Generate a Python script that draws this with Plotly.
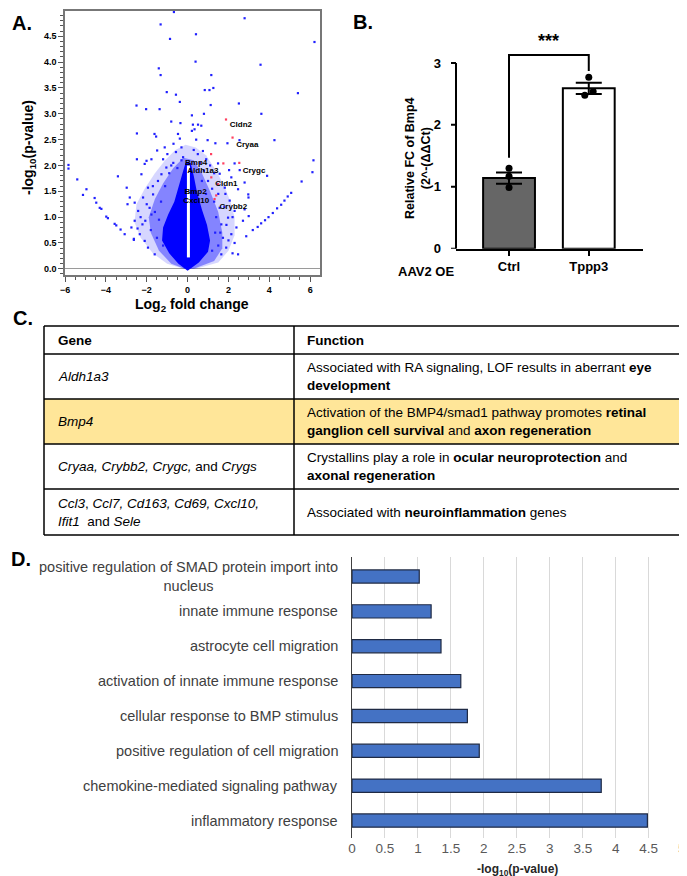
import plotly.graph_objects as go

W, H = 687, 876


def fx(px):
    return px / W


def fy(py):
    return 1 - py / H


# ---------------- A. volcano plot data ----------------
# scattered genes outside the dense core
pts_x = [-0.67, -1.32, 2.79, -0.86, 0.41, 6.21, 0.39, -1.41, -1.32, 3.57, 1.16, 5.40, -0.57, -1.02,
         0.84, 1.07, 1.26, -0.38, 2.51, -2.50, -2.03, -1.37, 1.13, 3.61, 0.21, 0.80, -0.80, -0.35,
         -2.48, -1.62, -1.54, -0.47, 0.26, 0.34, 0.51, 0.67, 2.54, 4.25, 0.98, 1.36, 1.95, -2.48,
         -2.01, -5.83, -5.83, 6.16, 6.11, 2.03, 3.89, 5.58, -5.40, -4.95, -5.12, -3.41, 2.97, 2.98,
         -2.98, -2.26, -2.10, -1.77, -1.49, -1.20, -1.12, -0.99, -0.69, -0.57, -0.38, -0.30, -0.22,
         0.21, 2.79, 2.30, 2.55, 2.14, 1.82, 2.47, 2.06, 2.30, 1.98, 2.39, 2.14, 2.30, 1.89, 1.65,
         2.47, 1.57, 1.65, 1.73, 2.79, 2.71, 2.99, 0.75, 0.50, 0.91, 0.42, 1.49, 1.57,
         -2.83, -2.59, -2.94, -2.42, -2.59, -2.75, -2.34, -2.10, -2.63, -1.94, -1.61, -2.07, -1.86,
         -1.69, -1.45, -1.28, -1.04, -1.94, -2.18, -1.77, -2.21,
         -4.55, -4.47, -4.30, -4.22, -3.98, -3.90, -3.57, -3.49, -3.28, -3.08, -2.63,
         2.87, 3.19, 3.43, 3.60, 3.79, 3.96, 4.17, 4.38, 4.58, 4.74, 4.90, 5.07,
         -1.1, -0.9, -1.3, -1.6, -1.8, -1.5, -2.0, -1.7, -0.7, -0.5, -1.4, -2.3, -2.45, -1.2, -0.8,
         -0.3, 0.3, 0.6, 0.8, 1.0, 1.2, 1.3, 1.5, 1.4, 1.6, 1.9, 1.8, 1.1, 1.3, 2.0, 1.5, 1.2, 0.9,
         0.7, 1.85, 2.2, 2.2, 1.35]
pts_y = [4.97, 4.73, 4.85, 4.45, 4.54, 4.39, 4.01, 3.88, 3.75, 3.95, 3.75, 3.40, 3.37, 3.42,
         3.46, 3.46, 3.50, 3.23, 3.20, 3.16, 3.09, 3.09, 3.17, 3.00, 2.97, 3.00, 2.85, 2.82,
         2.62, 2.61, 2.56, 2.61, 2.79, 2.70, 2.79, 2.77, 2.49, 2.49, 2.49, 2.43, 2.43, 2.12,
         2.09, 2.01, 1.94, 2.10, 1.87, 1.91, 1.80, 1.69, 1.73, 1.54, 1.43, 1.79, 1.44, 1.38,
         1.57, 1.83, 2.03, 2.12, 2.29, 2.12, 2.35, 2.22, 2.42, 2.26, 2.52, 2.35, 2.16,
         2.67, 1.67, 2.04, 1.91, 1.77, 1.57, 1.54, 1.32, 1.12, 0.99, 0.80, 0.67, 0.50, 0.41, 0.28,
         0.28, 1.18, 0.86, 0.60, 1.15, 0.93, 1.02, 2.28, 2.22, 2.12, 2.50, 2.04, 1.84,
         1.38, 1.28, 1.25, 1.12, 0.93, 0.80, 0.67, 0.54, 0.56, 0.41, 0.28, 0.93, 1.18,
         1.44, 1.70, 1.83, 1.96, 1.57, 1.38, 1.05, 0.86,
         1.37, 1.28, 1.18, 1.16, 1.01, 0.98, 0.87, 0.84, 0.76, 0.67, 0.58,
         0.63, 0.75, 0.81, 0.88, 0.94, 1.00, 1.08, 1.17, 1.24, 1.32, 1.40, 1.47,
         1.6, 1.85, 1.3, 1.1, 0.75, 0.6, 1.25, 1.6, 2.05, 1.95, 0.95, 1.0, 0.78, 0.45, 2.0,
         2.1, 2.3, 2.05, 1.9, 1.7, 1.55, 1.3, 1.45, 1.0, 0.7, 0.85, 1.2, 2.0, 1.85, 0.55, 0.45, 0.35,
         1.45, 1.7, 1.45, 1.0, 0.3, 0.7]

# significant genes (red)
sig_x = [1.88, 2.20, 1.15, 1.75, 2.53, 1.16, 1.48, 1.32, 1.40]
sig_y = [2.89, 2.54, 2.22, 2.04, 2.05, 1.77, 1.64, 1.35, 1.42]

# labelled genes
lab_genes = ["Cldn2", "Cryaa", "Bmp4", "Aldh1a3", "Crygc", "Cldn1", "Bmp2", "Cxcl10", "Crybb2"]
lab_x = [2.61, 2.92, 0.42, 0.75, 3.25, 1.90, 0.39, 0.42, 2.24]
lab_y = [2.78, 2.40, 2.05, 1.89, 1.90, 1.65, 1.49, 1.31, 1.20]

# outlines of the point cloud (sparse halo, denser zone, saturated core)
halo_x = [-0.2, -1.0, -1.7, -2.3, -2.6, -2.5, -2.1, -1.6, -1.1, -0.6, -0.1, 0.4, 0.9, 1.4, 1.8,
          2.1, 2.3, 2.3, 2.0, 1.5, 0.4]
halo_y = [0.0, 0.1, 0.3, 0.6, 0.9, 1.25, 1.55, 1.85, 2.1, 2.3, 2.4, 2.35, 2.2, 1.9, 1.6,
          1.3, 1.0, 0.65, 0.35, 0.12, 0.0]
mid_x = [-0.15, -0.8, -1.4, -1.8, -1.9, -1.6, -1.2, -0.7, -0.2, 0.3, 0.7, 1.1, 1.5, 1.7, 1.7, 1.3, 0.3]
mid_y = [0.0, 0.1, 0.35, 0.7, 1.0, 1.35, 1.65, 1.95, 2.15, 2.1, 1.85, 1.5, 1.1, 0.7, 0.4, 0.15, 0.0]
core_x = [0.0, -0.45, -0.9, -1.25, -1.2, -0.95, -0.65, -0.45, -0.25, -0.1, 0.15, 0.3, 0.45,
          0.7, 0.95, 1.1, 1.0, 0.55, 0.0]
core_y = [-0.04, 0.1, 0.3, 0.55, 0.8, 1.05, 1.3, 1.6, 1.85, 2.05, 2.05, 1.8, 1.5, 1.15, 0.85,
          0.55, 0.33, 0.12, -0.04]
gap_x = [0.04, 0.04]
gap_y = [0.22, 2.0]

# ---------------- B. qPCR data ----------------
groups = ["Ctrl", "Tppp3"]
means = [1.14, 2.59]
sems = [0.09, 0.09]
rep_group = [0, 0, 0, 1, 1, 1]
rep_jitter = [0.0, 0.0, 0.0, 0.0, -0.05, 0.055]
rep_vals = [1.30, 1.17, 0.99, 2.77, 2.48, 2.54]
bracket_x = [0, 0, 1, 1]
bracket_y = [1.47, 3.13, 3.13, 2.87]

# ---------------- C. table ----------------
genes = [
    "<i>Aldh1a3</i>",
    "<i>Bmp4</i>",
    "<i>Cryaa, Crybb2, Crygc,</i> and <i>Crygs</i>",
    "<i>Ccl3</i>, <i>Ccl7, Cd163, Cd69, Cxcl10,</i><br><i>Ifit1</i>  and <i>Sele</i>",
]
functions = [
    "Associated with RA signaling, LOF results in aberrant <b>eye</b><br><b>development</b>",
    "Activation of the BMP4/smad1 pathway promotes <b>retinal</b><br><b>ganglion cell survival</b> and <b>axon regeneration</b>",
    "Crystallins play a role in <b>ocular neuroprotection</b> and<br><b>axonal regeneration</b>",
    "Associated with <b>neuroinflammation</b> genes",
]

# ---------------- D. GO terms ----------------
go_terms = [
    "positive regulation of SMAD protein import into<br>nucleus",
    "innate immune response",
    "astrocyte cell migration",
    "activation of innate immune response",
    "cellular response to BMP stimulus",
    "positive regulation of cell migration",
    "chemokine-mediated signaling pathway",
    "inflammatory response",
]
go_vals = [1.02, 1.20, 1.35, 1.65, 1.75, 1.93, 3.78, 4.48]
go_ticks = [0, 0.5, 1, 1.5, 2, 2.5, 3, 3.5, 4, 4.5, 5]

fig = go.Figure()

# A
for px_, py_, alpha in [(halo_x, halo_y, 0.16), (mid_x, mid_y, 0.38), (core_x, core_y, 1.0)]:
    fig.add_trace(go.Scatter(x=px_, y=py_, mode="lines", fill="toself", line=dict(width=0),
                             fillcolor="rgba(0,0,255,%s)" % alpha, hoverinfo="skip",
                             xaxis="x", yaxis="y"))
fig.add_trace(go.Scatter(x=gap_x, y=gap_y, mode="lines", line=dict(color="white", width=3),
                         xaxis="x", yaxis="y"))
fig.add_trace(go.Scatter(x=pts_x, y=pts_y, mode="markers",
                         marker=dict(symbol="square", size=2.2, color="#2020ff"),
                         xaxis="x", yaxis="y"))
fig.add_trace(go.Scatter(x=sig_x, y=sig_y, mode="markers",
                         marker=dict(symbol="square", size=2.2, color="#ff4060"),
                         xaxis="x", yaxis="y"))
fig.add_trace(go.Scatter(x=lab_x, y=lab_y, mode="text", text=lab_genes,
                         textfont=dict(family="Liberation Sans", size=8, color="black", weight="bold"),
                         xaxis="x", yaxis="y"))

# B
fig.add_trace(go.Bar(x=[0, 1], y=means, width=0.65,
                     marker=dict(color=["#666666", "white"], line=dict(color="black", width=2)),
                     error_y=dict(type="data", array=sems, color="black", thickness=2, width=13),
                     xaxis="x2", yaxis="y2"))
fig.add_trace(go.Scatter(x=[g + j for g, j in zip(rep_group, rep_jitter)], y=rep_vals,
                         mode="markers", marker=dict(color="black", size=7),
                         xaxis="x2", yaxis="y2"))
fig.add_trace(go.Scatter(x=bracket_x, y=bracket_y, mode="lines",
                         line=dict(color="black", width=2), xaxis="x2", yaxis="y2"))

# D
fig.add_trace(go.Bar(x=go_vals, y=go_terms, orientation="h", width=0.38,
                     marker=dict(color="#4472C4", line=dict(color="#1f2a44", width=1.2)),
                     xaxis="x3", yaxis="y3"))

axis_font = dict(family="Liberation Sans", size=9, color="black", weight="bold")
fig.update_layout(
    width=W, height=H, margin=dict(l=0, r=0, t=0, b=0),
    template="none", showlegend=False,
    paper_bgcolor="white", plot_bgcolor="white",
    xaxis=dict(domain=[fx(57), fx(312)], range=[-6.0, 6.48], tickmode="array",
               tickvals=[-6, -4, -2, 0, 2, 4, 6], showline=True, mirror=True,
               linecolor="#777777", linewidth=1.5, ticks="outside", ticklen=5,
               tickcolor="#555555", tickfont=axis_font, showgrid=False, zeroline=False,
               minor=dict(ticks="outside", ticklen=3, dtick=0.5, tickcolor="#555555", showgrid=False)),
    yaxis=dict(domain=[fy(267), fy(3)], range=[-0.12, 4.99], tickmode="array",
               tickvals=[0, 0.5, 1, 1.5, 2, 2.5, 3, 3.5, 4, 4.5], tickformat=".1f",
               showline=True, mirror=True, linecolor="#777777", linewidth=1.5,
               ticks="outside", ticklen=5, tickcolor="#555555", tickfont=axis_font,
               showgrid=False, zeroline=True, zerolinecolor="#9a9a9a", zerolinewidth=1,
               minor=dict(ticks="outside", ticklen=3, dtick=0.1, tickcolor="#555555", showgrid=False)),
    xaxis2=dict(domain=[fx(448), fx(635)], range=[-0.665, 1.68], anchor="y2",
                tickmode="array", tickvals=[0, 1], ticktext=groups,
                showline=True, linecolor="black", linewidth=2, ticks="outside", ticklen=5,
                tickwidth=2, tickcolor="black", ticklabelstandoff=0,
                tickfont=dict(family="Liberation Sans", size=13, color="black", weight="bold"),
                showgrid=False, zeroline=False),
    yaxis2=dict(domain=[fy(240.7), fy(24)], range=[0, 3.5], anchor="x2",
                tickmode="array", tickvals=[0, 1, 2, 3], showline=False,
                ticks="", tickfont=dict(family="Liberation Sans", size=13, color="black", weight="bold"),
                ticklabelstandoff=14, showgrid=False, zeroline=False),
    xaxis3=dict(domain=[fx(344), fx(675)], range=[0, 5.02], anchor="y3",
                tickmode="array", tickvals=go_ticks, ticktext=[("%g" % v) for v in go_ticks],
                ticklabeloverflow="allow",
                showline=False, ticks="", showgrid=True, gridcolor="#d9d9d9", gridwidth=1,
                tickfont=dict(family="Liberation Sans", size=13.5, color="#595959"),
                ticklabelstandoff=0, zeroline=False),
    yaxis3=dict(domain=[fy(830), fy(549)], anchor="x3", type="category",
                categoryorder="array", categoryarray=go_terms, autorange="reversed",
                showticklabels=False, ticks="", showline=True, linecolor="#404040",
                linewidth=1, showgrid=False, zeroline=False),
    bargap=0.6,
)

shapes = []
ann = []


def note(x, y, text, size, color="black", xanchor="center", yanchor="middle", **kw):
    ann.append(dict(x=x, y=y, xref=kw.pop("xref", "paper"), yref=kw.pop("yref", "paper"),
                    text=text, showarrow=False, xanchor=xanchor, yanchor=yanchor,
                    font=dict(family="Liberation Sans", size=size, color=color), **kw))


# A titles and panel label
note(fx(2), fy(15), "<b>A.</b>", 20, xanchor="left")
note(fx(21), fy(140), "<b>-log<sub>10</sub>(p-value)</b>", 14, textangle=-90)
note(fx(184), fy(297), "<b>Log<sub>2</sub> fold change</b>", 14)

# B labels
note(fx(343), fy(14), "<b>B.</b>", 20, xanchor="left")
note(fx(410), fy(150), "<b>Relative FC of Bmp4<br>(2^-(ΔΔCt)</b>", 12.5, textangle=-90)
note(fx(418), fy(263), "<b>AAV2 OE</b>", 13)
note(0.5, 3.13, "<b>***</b>", 18, xref="x2", yref="y2", yanchor="bottom", yshift=2)
shapes.append(dict(type="line", xref="paper", yref="y2", x0=fx(448), x1=fx(448), y0=0, y1=3,
                   line=dict(color="black", width=2)))
for v in [0, 1, 2, 3]:
    shapes.append(dict(type="line", xref="paper", yref="y2", x0=fx(443), x1=fx(448), y0=v, y1=v,
                       line=dict(color="black", width=2)))

# C table
note(fx(3), fy(310), "<b>C.</b>", 20, xanchor="left")
t_left, t_right, t_div = 36, 683, 286
row_edges = [318, 346, 391, 436, 481, 527]
shapes.append(dict(type="rect", xref="paper", yref="paper", x0=fx(t_left), x1=fx(t_right),
                   y0=fy(row_edges[3]), y1=fy(row_edges[2]), fillcolor="#FFE699",
                   line=dict(width=0), layer="below"))
for e in row_edges:
    shapes.append(dict(type="line", xref="paper", yref="paper", x0=fx(t_left), x1=fx(t_right),
                       y0=fy(e), y1=fy(e), line=dict(color="black", width=1.5)))
for xv in [t_left, t_div, t_right]:
    shapes.append(dict(type="line", xref="paper", yref="paper", x0=fx(xv), x1=fx(xv),
                       y0=fy(row_edges[0]), y1=fy(row_edges[-1]), line=dict(color="black", width=1.5)))
hy = (row_edges[0] + row_edges[1]) / 2
note(fx(48), fy(hy), "<b>Gene</b>", 13.5, xanchor="left")
note(fx(297), fy(hy), "<b>Function</b>", 13.5, xanchor="left")
for i, (g, f) in enumerate(zip(genes, functions)):
    cy = (row_edges[i + 1] + row_edges[i + 2]) / 2
    note(fx(48), fy(cy), g, 13.5, xanchor="left", align="left")
    note(fx(297), fy(cy), f, 13.5, xanchor="left", align="left")

# D labels
note(fx(1), fy(551), "<b>D.</b>", 20, xanchor="left")
for t in go_terms:
    note(fx(332), t, t, 14.5, color="#404040", xanchor="right", yref="y3", align="center")
note(fx(510), fy(862), "<b>-log<sub>10</sub>(p-value)</b>", 12, color="#262626")

fig.update_layout(shapes=shapes, annotations=ann)
fig.write_html("out.html")
